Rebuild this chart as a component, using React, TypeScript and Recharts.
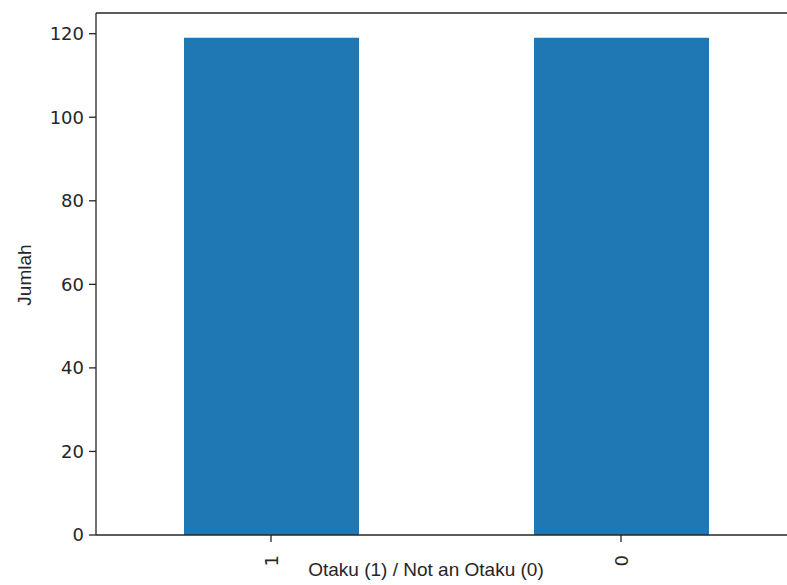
import React from "react"
import { BarChart, Bar, XAxis, YAxis, ReferenceLine } from "recharts"

const categories = ["1", "0"]
const counts = [119, 119]
const yTicks = [0, 20, 40, 60, 80, 100, 120]
const yMax = 124.95

const data = categories.map((c, i) => ({ name: c, value: counts[i] }))

const spine = "#262626"
const tickFont = { fontFamily: "DejaVu Sans", fontSize: 18, fill: "#262626" }
const labelFont = { fontFamily: "Liberation Sans", fontSize: 19, fill: "#262626" }

const XTick = (props: any) => {
  const { x, y, payload } = props
  return (
    <text
      transform={`translate(${x}, ${y + 11}) rotate(-90)`}
      textAnchor="end"
      dominantBaseline="central"
      {...tickFont}
    >
      {payload.value}
    </text>
  )
}

const XLabel = () => (
  <text x={426} y={576} textAnchor="middle" {...labelFont}>
    Otaku (1) / Not an Otaku (0)
  </text>
)

const YLabel = () => (
  <text transform="translate(31, 275) rotate(-90)" textAnchor="middle" {...labelFont}>
    Jumlah
  </text>
)

export default function App() {
  return (
    <div
      style={{
        position: "absolute",
        left: 0,
        top: 0,
        width: 787,
        height: 585,
        overflow: "hidden",
        background: "#fff",
      }}
    >
      <BarChart
        width={800}
        height={585}
        data={data}
        margin={{ top: 13, right: 4, bottom: 0, left: 0 }}
        barSize={175}
      >
        <XAxis
          dataKey="name"
          height={50}
          tick={<XTick />}
          tickSize={7}
          axisLine={{ stroke: spine, strokeWidth: 1.3 }}
          tickLine={{ stroke: spine, strokeWidth: 1.3 }}
          label={<XLabel />}
        />
        <YAxis
          width={96}
          domain={[0, yMax]}
          ticks={yTicks}
          tickSize={7}
          tickMargin={5}
          tick={tickFont}
          axisLine={{ stroke: spine, strokeWidth: 1.3 }}
          tickLine={{ stroke: spine, strokeWidth: 1.3 }}
          allowDataOverflow
          label={<YLabel />}
        />
        <ReferenceLine y={yMax} stroke={spine} strokeWidth={1.3} />
        <Bar dataKey="value" fill="#1f77b4" isAnimationActive={false} />
      </BarChart>
    </div>
  )
}
